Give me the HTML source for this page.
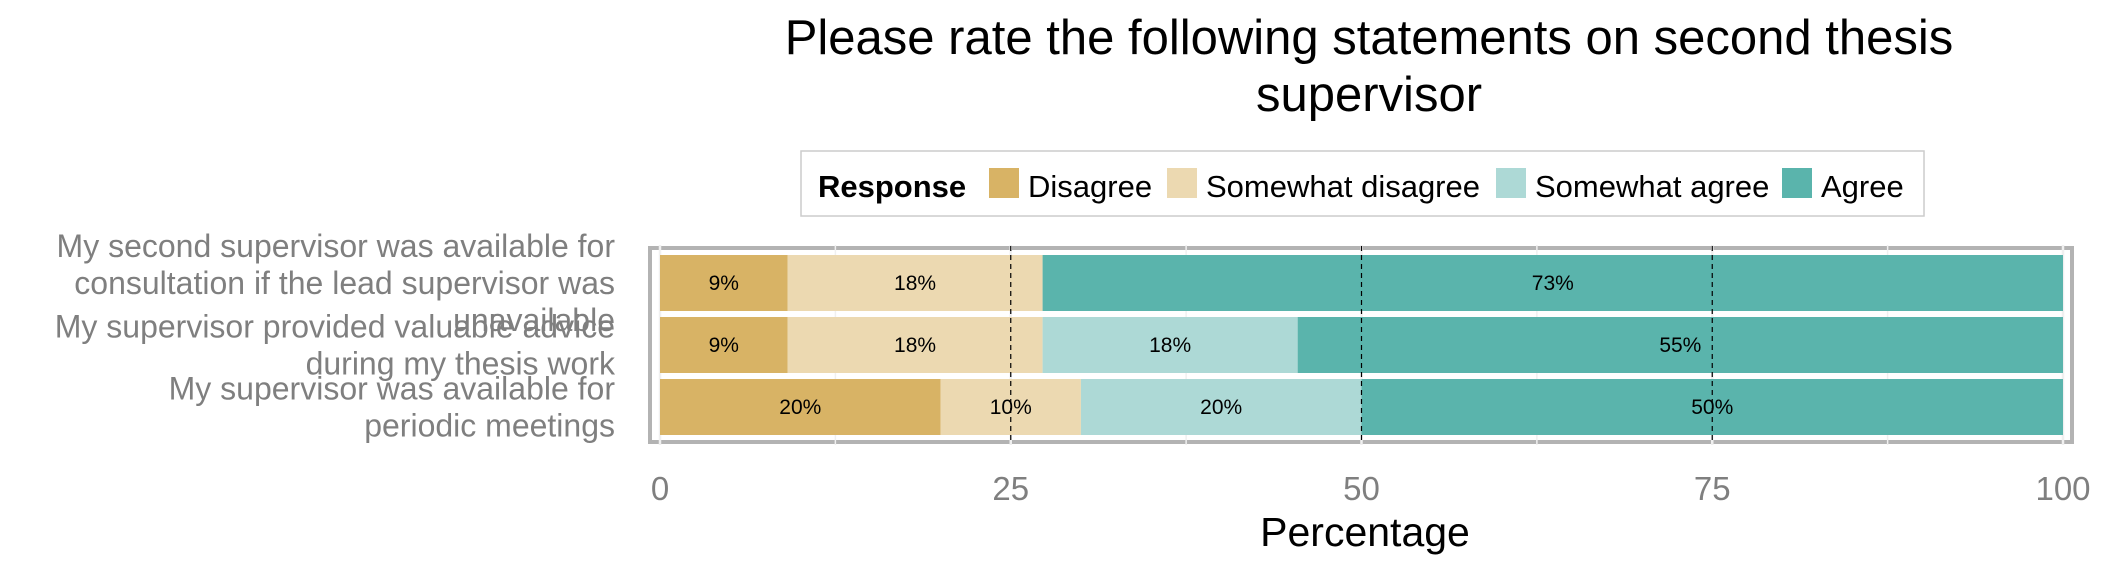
<!DOCTYPE html>
<html><head><meta charset="utf-8"><style>
body{margin:0;background:#fff;}
svg{display:block;font-family:"Liberation Sans",sans-serif;}
</style></head><body>
<svg id="chart" width="2125" height="578" viewBox="0 0 2125 578" xmlns="http://www.w3.org/2000/svg">
<g font-size="49" text-anchor="middle" fill="#000">
<text x="1369" y="54">Please rate the following statements on second thesis</text>
<text x="1369" y="111">supervisor</text>
</g>
<g id="legend"></g>
<g id="plot"></g>
</svg>
<script>
const categories = [
  ["My second supervisor was available for","consultation if the lead supervisor was","unavailable"],
  ["My supervisor provided valuable advice","during my thesis work"],
  ["My supervisor was available for","periodic meetings"]
];
const responses = ["Disagree","Somewhat disagree","Somewhat agree","Agree"];
const colors = ["#d8b365","#ecd9b1","#add9d6","#5ab4ac"];
const disagree = [9.09, 9.09, 20];
const somewhatDisagree = [18.18, 18.18, 10];
const somewhatAgree = [0, 18.18, 20];
const agree = [72.73, 54.55, 50];
const xTicks = [0, 25, 50, 75, 100];
const dashedRefs = [25, 50, 75];

const NS = "http://www.w3.org/2000/svg";
function mk(tag, attrs, parent){const e=document.createElementNS(NS,tag);for(const k in attrs)e.setAttribute(k,attrs[k]);parent.appendChild(e);return e;}
const x = v => 660 + v/100*1403;
const barTop = [255, 317, 379];
const barH = 56;
const plot = document.getElementById('plot');

const panel = mk('rect',{x:650,y:248,width:1422,height:194,fill:'#fff',stroke:'#b3b3b3','stroke-width':4},plot);


for(let v=0; v<=100; v+=12.5){
  const g = mk('line',{x1:x(v),x2:x(v),y1:245,y2:445,stroke:'#f0f0f0','stroke-width':v%25===0?2.5:1.5},plot);
  
  
}

const series = [disagree, somewhatDisagree, somewhatAgree, agree];
categories.forEach((cat,i)=>{
  let cum = 0;
  series.forEach((s,j)=>{
    const v = s[i];
    if(v>0){
      const r = mk('rect',{x:x(cum),y:barTop[i],width:x(cum+v)-x(cum),height:barH,fill:colors[j]},plot);
      
      
      const t = mk('text',{x:(x(cum)+x(cum+v))/2,y:barTop[i]+barH/2+7,'font-size':21,'text-anchor':'middle',fill:'#000'},plot);
      
      
      t.textContent = Math.round(v)+'%';
    }
    cum += v;
  });
  const cy = barTop[i]+barH/2;
  const n = cat.length;
  const lab = mk('text',{'font-size':32,'text-anchor':'end',fill:'#7f7f7f'},plot);
  
  
  cat.forEach((line,k)=>{
    const ts = mk('tspan',{x:615,y:cy+(k-(n-1)/2)*37+11},lab);
    ts.textContent = line;
  });
});

dashedRefs.forEach(v=>{
  const d = mk('line',{x1:x(v),x2:x(v),y1:246,y2:444,stroke:'#000','stroke-width':1.2,'stroke-dasharray':'5,4'},plot);
  
  
});

xTicks.forEach(v=>{
  const t = mk('text',{x:x(v),y:500,'font-size':33,'text-anchor':'middle',fill:'#7f7f7f'},plot);
  
  
  t.textContent = v;
});
const xt = mk('text',{x:1365,y:546,'font-size':41,'text-anchor':'middle',fill:'#000'},plot);


xt.textContent = 'Percentage';

const lg = document.getElementById('legend');
const box = mk('rect',{x:801,y:151,width:1123,height:65,fill:'#fff',stroke:'#cccccc','stroke-width':1.5},lg);


const lt = mk('text',{x:818,y:197,'font-size':31,'font-weight':'bold',fill:'#000'},lg);


lt.textContent = 'Response';
const keyX = [989, 1167, 1496, 1782];
responses.forEach((r,j)=>{
  const k = mk('rect',{x:keyX[j],y:168,width:30,height:30,fill:colors[j]},lg);
  
  
  const t = mk('text',{x:keyX[j]+39,y:197,'font-size':31,fill:'#000'},lg);
  
  
  t.textContent = r;
});
</script>
</body></html>
